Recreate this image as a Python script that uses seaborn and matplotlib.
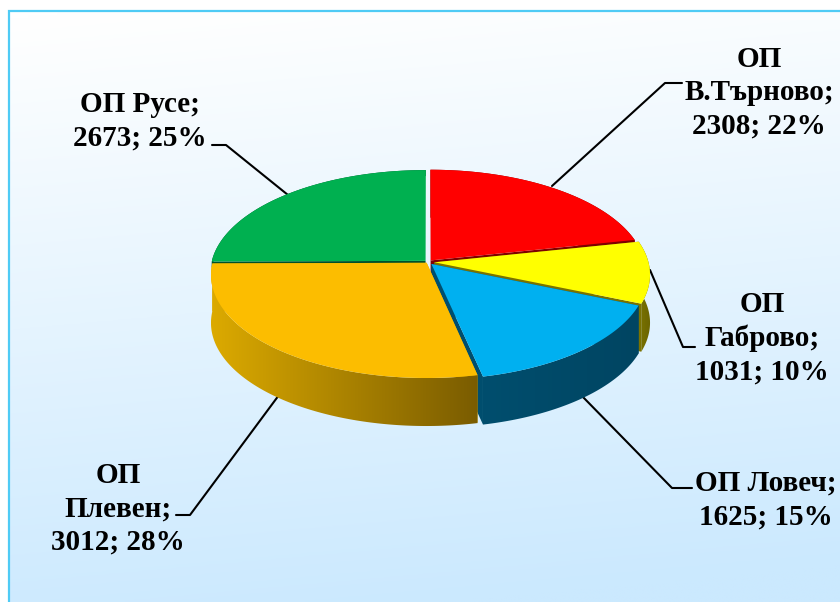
import numpy as np
import matplotlib
matplotlib.use("Agg")
import matplotlib.pyplot as plt
from matplotlib.colors import to_rgb
from matplotlib.patches import Polygon
import seaborn as sns

names = ["ОП\nВ.Търново", "ОП\nГаброво", "ОП Ловеч", "ОП\nПлевен", "ОП Русе"]
values = [2308, 1031, 1625, 3012, 2673]
percents = [22, 10, 15, 28, 25]
explode = [0.02, 0.03, 0.025, 0.01, 0.016]
top_colors = ["#ff0000", "#ffff00", "#00b0f0", "#fcbd00", "#00b050"]
side_colors = ["#7f0000", "#7a7200", "#004e6e", "#dcaa00", "#00502a"]
wall_ends = ["#7f0000", "#6b6500", "#004562", "#7a5c00", "#00502a"]

# pixel geometry of the tilted disc
CX, CY = 428, 262
RX, RY = 214, 101.6
PERSP = 0.1165
DEPTH = 48


def project(u, v):
    s = 1 / (1 + PERSP * np.asarray(v))
    return CX + RX * np.asarray(u) * s, CY - RY * np.asarray(v) * s


sns.set_theme(style="white")
plt.rcParams["font.family"] = ["Liberation Serif", "DejaVu Serif"]

fig = plt.figure(figsize=(8.4, 6.02), dpi=100)
ax = fig.add_axes([0, 0, 1, 1])

palette = sns.color_palette(top_colors)
wedges, _ = ax.pie(values, explode=explode, startangle=90, counterclock=False,
                   colors=palette, radius=1)
slices = [(w.theta1, w.theta2, w.center[0], w.center[1]) for w in wedges]
for w in wedges:
    w.remove()

# background gradient
yy, xx = np.mgrid[0:1:200j, 0:1:200j]
t = np.clip(yy * 0.95 + (xx - 0.1) * 0.12, 0, 1)[..., None]
grad = (1 - t) * np.array([1, 1, 1]) + t * np.array(to_rgb("#cbe9fe"))
ax.imshow(grad, extent=(9, 840, 602, 11), aspect="auto", zorder=0)
ax.plot([9, 9, 840], [602, 11, 11], color="#4fcbf5", lw=1.6, zorder=1,
        solid_joinstyle="miter")

# back to front: green, red, yellow, blue, orange
zo = 2
for i in [4, 0, 1, 2, 3]:
    th1, th2, cu, cv = slices[i]
    th = np.radians(np.linspace(th1, th2, 120))
    ax_x, ax_y = project(cu + np.cos(th), cv + np.sin(th))
    ox, oy = project(cu, cv)
    # the back slice only shows a sliver, keep it from poking out at the left
    depth = 6 if i == 4 else DEPTH

    # radial inner walls
    for k in [0, -1]:
        ax.fill([ox, ax_x[k], ax_x[k], ox],
                [oy, ax_y[k], ax_y[k] + depth, oy + depth],
                color=side_colors[i], lw=0, zorder=zo)
    zo += 1

    # outer wall, shaded along x and clipped to the wall outline
    order = np.argsort(ax_x)
    c0, c1 = np.array(to_rgb(side_colors[i])), np.array(to_rgb(wall_ends[i]))
    f = np.linspace(0, 1, 256)[None, :, None]
    shade = (1 - f) * c0 + f * c1
    outline = np.c_[np.r_[ax_x, ax_x[::-1]], np.r_[ax_y, ax_y[::-1] + depth]]
    clip = Polygon(outline, closed=True, transform=ax.transData, fc="none", ec="none")
    ax.add_patch(clip)
    im = ax.imshow(shade, aspect="auto", zorder=zo,
                   extent=(ax_x[order[0]], ax_x[order[-1]], 450, 100))
    im.set_clip_path(clip)
    zo += 1

    # top face
    ax.fill(np.r_[ox, ax_x], np.r_[oy, ax_y], color=palette[i], lw=0, zorder=zo)
    zo += 1

# leader lines
leaders = [
    ([552, 665, 682], [186, 83, 83]),
    ([650, 683, 695], [270, 347, 347]),
    ([581, 672, 692], [395, 488, 488]),
    ([279, 190, 176], [395, 515, 515]),
    ([288, 226, 212], [195, 145, 145]),
]
for lx, ly in leaders:
    ax.plot(lx, ly, color="black", lw=1.5, zorder=1.5)

label_pos = [(759, 93), (762, 338), (766, 500), (118, 509), (140, 121)]
for name, val, pct, (tx, ty) in zip(names, values, percents, label_pos):
    ax.text(tx, ty, f"{name};\n{val}; {pct}%", ha="center", va="center",
            fontsize=21, fontweight="bold", color="black",
            linespacing=1.3, zorder=100)

ax.set_aspect("auto")
ax.set_xlim(0, 840)
ax.set_ylim(602, 0)
ax.axis("off")
fig.patch.set_facecolor("white")
fig.savefig("out.png", dpi=100)
